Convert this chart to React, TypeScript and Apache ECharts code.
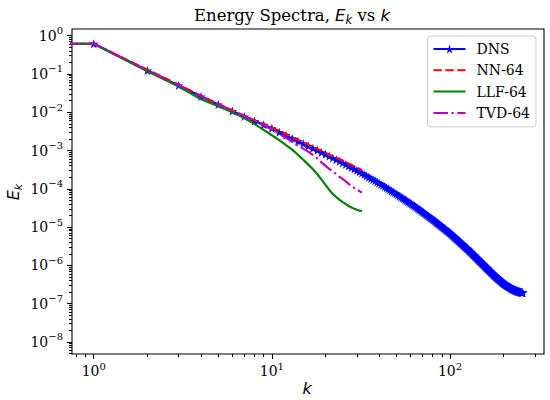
import React, { useEffect, useRef } from "react";
import * as echarts from "echarts";

// ---- data ----
const SERIES_NAMES = ["DNS", "NN-64", "LLF-64", "TVD-64"];
const K_DNS = Array.from({ length: 256 }, (_, i) => i + 1);
const K_LES = Array.from({ length: 32 }, (_, i) => i + 1);

// energy of the k = 0 mode (drawn as a flat segment toward the left edge)
const K_ZERO_PLOT = 0.5;
const E_K0 = [0.617, 0.617, 0.617, 0.617];

const E_DNS = [
  0.617, 0.123, 0.0501, 0.0257, 0.01585, 0.01072, 0.00776, 0.00589, 0.00468, 0.0038,
  0.00301, 0.00248, 0.00207, 0.00176, 0.00151, 0.00131, 0.00114, 0.00101, 8.93e-4, 7.98e-4,
  7.1e-4, 6.38e-4, 5.76e-4, 5.22e-4, 4.75e-4, 4.31e-4, 3.92e-4, 3.58e-4, 3.28e-4, 3.01e-4,
  2.78e-4, 2.56e-4, 2.36e-4, 2.17e-4, 2.01e-4, 1.86e-4, 1.73e-4, 1.61e-4, 1.5e-4, 1.4e-4,
  1.3e-4, 1.22e-4, 1.14e-4, 1.06e-4, 9.95e-5, 9.33e-5, 8.77e-5, 8.24e-5, 7.76e-5, 7.33e-5,
  6.9e-5, 6.49e-5, 6.12e-5, 5.78e-5, 5.46e-5, 5.16e-5, 4.89e-5, 4.63e-5, 4.39e-5, 4.17e-5,
  3.96e-5, 3.77e-5, 3.58e-5, 3.4e-5, 3.22e-5, 3.06e-5, 2.9e-5, 2.77e-5, 2.63e-5, 2.51e-5,
  2.39e-5, 2.28e-5, 2.17e-5, 2.07e-5, 1.98e-5, 1.89e-5, 1.81e-5, 1.73e-5, 1.66e-5, 1.59e-5,
  1.52e-5, 1.45e-5, 1.38e-5, 1.32e-5, 1.27e-5, 1.21e-5, 1.16e-5, 1.11e-5, 1.07e-5, 1.03e-5,
  9.86e-6, 9.46e-6, 9.1e-6, 8.73e-6, 8.4e-6, 8.09e-6, 7.78e-6, 7.48e-6, 7.21e-6, 6.95e-6,
  6.67e-6, 6.4e-6, 6.14e-6, 5.89e-6, 5.66e-6, 5.44e-6, 5.24e-6, 5.04e-6, 4.84e-6, 4.66e-6,
  4.49e-6, 4.32e-6, 4.16e-6, 4.01e-6, 3.86e-6, 3.72e-6, 3.6e-6, 3.47e-6, 3.35e-6, 3.23e-6,
  3.12e-6, 3.01e-6, 2.91e-6, 2.82e-6, 2.72e-6, 2.63e-6, 2.54e-6, 2.45e-6, 2.36e-6, 2.28e-6,
  2.2e-6, 2.12e-6, 2.05e-6, 1.98e-6, 1.91e-6, 1.85e-6, 1.79e-6, 1.73e-6, 1.67e-6, 1.62e-6,
  1.57e-6, 1.52e-6, 1.47e-6, 1.42e-6, 1.38e-6, 1.34e-6, 1.29e-6, 1.26e-6, 1.22e-6, 1.18e-6,
  1.15e-6, 1.11e-6, 1.08e-6, 1.05e-6, 1.01e-6, 9.86e-7, 9.57e-7, 9.29e-7, 9.03e-7, 8.77e-7,
  8.53e-7, 8.28e-7, 8.05e-7, 7.83e-7, 7.62e-7, 7.41e-7, 7.21e-7, 7.01e-7, 6.82e-7, 6.64e-7,
  6.46e-7, 6.29e-7, 6.12e-7, 5.97e-7, 5.81e-7, 5.66e-7, 5.51e-7, 5.37e-7, 5.26e-7, 5.14e-7,
  5.02e-7, 4.92e-7, 4.81e-7, 4.71e-7, 4.61e-7, 4.51e-7, 4.41e-7, 4.32e-7, 4.23e-7, 4.14e-7,
  4.06e-7, 3.97e-7, 3.89e-7, 3.81e-7, 3.73e-7, 3.66e-7, 3.58e-7, 3.51e-7, 3.44e-7, 3.38e-7,
  3.33e-7, 3.28e-7, 3.23e-7, 3.18e-7, 3.14e-7, 3.09e-7, 3.05e-7, 3.01e-7, 2.96e-7, 2.92e-7,
  2.88e-7, 2.84e-7, 2.8e-7, 2.76e-7, 2.72e-7, 2.69e-7, 2.65e-7, 2.61e-7, 2.58e-7, 2.54e-7,
  2.51e-7, 2.47e-7, 2.44e-7, 2.41e-7, 2.39e-7, 2.37e-7, 2.34e-7, 2.32e-7, 2.3e-7, 2.28e-7,
  2.26e-7, 2.24e-7, 2.22e-7, 2.21e-7, 2.19e-7, 2.17e-7, 2.15e-7, 2.13e-7, 2.11e-7, 2.1e-7,
  2.08e-7, 2.07e-7, 2.06e-7, 2.05e-7, 2.04e-7, 2.03e-7, 2.01e-7, 2.0e-7, 1.99e-7, 1.98e-7,
  1.97e-7, 1.96e-7, 1.95e-7, 1.94e-7, 1.93e-7, 1.92e-7,
];

const E_NN = [
  0.617, 0.129, 0.0525, 0.0269, 0.0166, 0.0112, 0.00813, 0.00617, 0.0049, 0.00398,
  0.00324, 0.00269, 0.00224, 0.00191, 0.00162, 0.00141, 0.00123, 0.0011, 9.77e-4, 8.71e-4,
  7.76e-4, 7.08e-4, 6.46e-4, 5.89e-4, 5.37e-4, 4.9e-4, 4.47e-4, 4.17e-4, 3.8e-4, 3.55e-4,
  3.31e-4, 3.09e-4,
];

const E_LLF = [
  0.617, 0.1175, 0.0468, 0.02188, 0.01445, 0.01, 0.00708, 0.0049, 0.00347, 0.00251,
  0.00186, 0.00138, 0.00105, 7.76e-4, 5.75e-4, 4.27e-4, 3.24e-4, 2.4e-4, 1.74e-4, 1.26e-4,
  9.33e-5, 7.24e-5, 6.03e-5, 5.13e-5, 4.47e-5, 3.98e-5, 3.55e-5, 3.24e-5, 3.02e-5, 2.82e-5,
  2.69e-5, 2.63e-5,
];

const E_TVD = [
  0.617, 0.1259, 0.0513, 0.0263, 0.01622, 0.01096, 0.00794, 0.00603, 0.00457, 0.00355,
  0.00275, 0.00214, 0.0017, 0.00135, 0.00112, 9.33e-4, 7.59e-4, 6.17e-4, 4.9e-4, 3.98e-4,
  3.31e-4, 2.82e-4, 2.4e-4, 2.04e-4, 1.78e-4, 1.55e-4, 1.35e-4, 1.17e-4, 1.05e-4, 9.55e-5,
  8.71e-5, 7.94e-5,
];

// axis ranges and ticks
const X_MIN = 0.755;
const X_MAX = 337;
const Y_MIN = 4.8e-9;
const Y_MAX = 1.5;
const X_MAJOR = [1, 10, 100];
const Y_MAJOR = [1e-8, 1e-7, 1e-6, 1e-5, 1e-4, 1e-3, 1e-2, 1e-1, 1];

function minorTicks(lo: number, hi: number): number[] {
  const out: number[] = [];
  for (let d = -10; d <= 3; d++) {
    for (let m = 2; m <= 9; m++) {
      const v = m * Math.pow(10, d);
      if (v >= lo && v <= hi) out.push(v);
    }
  }
  return out;
}

const STAR =
  "path://M50 0 L61.23 34.55 L97.55 34.55 L68.16 55.9 L79.39 90.45 L50 69.1 L20.61 90.45 L31.84 55.9 L2.45 34.55 L38.77 34.55 Z";

const SERIF = "DejaVu Serif";
const SANS = "DejaVu Sans";

function powLabel(value: number): string {
  const e = Math.round(Math.log10(value));
  const s = e < 0 ? "\u2212" + -e : String(e);
  return "{b|10}{s|" + s + "}";
}

const tickRich = {
  b: { fontFamily: SERIF, fontSize: 14, lineHeight: 20, color: "#000" },
  s: { fontFamily: SERIF, fontSize: 10, verticalAlign: "top", color: "#000" },
};

export default function App() {
  const ref = useRef<HTMLDivElement>(null);

  useEffect(() => {
    if (!ref.current) return;
    const chart = echarts.init(ref.current, undefined, { renderer: "svg" });

    const colors = ["#0000ff", "#ff0000", "#008000", "#bf00bf"];
    const makeData = (ks: number[], es: number[], e0: number) => [
      { value: [K_ZERO_PLOT, e0], symbol: "none" },
      ...ks.map((k, i) => [k, es[i]]),
    ];

    const tickLine = { color: "#000", width: 1.1 };
    const hiddenMark = { opacity: 0, color: "transparent", borderWidth: 0 };

    const option: any = {
      animation: false,
      grid: {
        left: 72,
        right: 6,
        top: 29,
        bottom: 46,
        show: true,
        borderColor: "#000",
        borderWidth: 1.1,
        backgroundColor: "transparent",
      },
      legend: {
        orient: "vertical",
        right: 14,
        top: 36,
        itemWidth: 32,
        itemHeight: 11,
        itemGap: 3.3,
        padding: [4, 6, 5, 5],
        backgroundColor: "rgba(255,255,255,0.8)",
        borderColor: "#cccccc",
        borderWidth: 1,
        borderRadius: 3,
        textStyle: { fontFamily: SERIF, fontSize: 14, lineHeight: 18, color: "#000", padding: [0, 0, 0, 6] },
        data: [
          { name: SERIES_NAMES[0] },
          { name: SERIES_NAMES[1], itemStyle: hiddenMark },
          { name: SERIES_NAMES[2], itemStyle: hiddenMark },
          { name: SERIES_NAMES[3], itemStyle: hiddenMark },
        ],
      },
      xAxis: [
        {
          type: "log",
          logBase: 10,
          min: X_MIN,
          max: X_MAX,
          position: "bottom",
          axisLine: { show: false },
          splitLine: { show: false },
          minorTick: { show: false },
          axisTick: { show: true, inside: false, length: 5, lineStyle: tickLine, customValues: X_MAJOR },
          axisLabel: { customValues: X_MAJOR, margin: 7, formatter: powLabel, rich: tickRich },
        },
        {
          type: "log",
          logBase: 10,
          min: X_MIN,
          max: X_MAX,
          position: "bottom",
          axisLine: { show: false },
          splitLine: { show: false },
          axisTick: { show: true, inside: false, length: 3, lineStyle: tickLine, customValues: minorTicks(X_MIN, X_MAX) },
          axisLabel: { show: false },
        },
      ],
      yAxis: [
        {
          type: "log",
          logBase: 10,
          min: Y_MIN,
          max: Y_MAX,
          position: "left",
          axisLine: { show: false },
          splitLine: { show: false },
          minorTick: { show: false },
          axisTick: { show: true, inside: false, length: 5, lineStyle: tickLine, customValues: Y_MAJOR },
          axisLabel: { customValues: Y_MAJOR, margin: 9, formatter: powLabel, rich: tickRich },
        },
        {
          type: "log",
          logBase: 10,
          min: Y_MIN,
          max: Y_MAX,
          position: "left",
          axisLine: { show: false },
          splitLine: { show: false },
          axisTick: { show: true, inside: false, length: 3, lineStyle: tickLine, customValues: minorTicks(Y_MIN, Y_MAX) },
          axisLabel: { show: false },
        },
      ],
      series: [
        {
          name: "DNS",
          type: "line",
          xAxisIndex: 0,
          yAxisIndex: 0,
          data: makeData(K_DNS, E_DNS, E_K0[0]),
          symbol: STAR,
          symbolSize: [9.5, 9],
          showSymbol: true,
          clip: true,
          lineStyle: { color: colors[0], width: 2.2 },
          itemStyle: { color: colors[0] },
          z: 2,
        },
        {
          name: "NN-64",
          type: "line",
          data: makeData(K_LES, E_NN, E_K0[1]),
          symbol: "none",
          clip: true,
          lineStyle: { color: colors[1], width: 2.2, type: [8.3, 3.6] },
          itemStyle: { color: colors[1] },
          z: 3,
        },
        {
          name: "LLF-64",
          type: "line",
          data: makeData(K_LES, E_LLF, E_K0[2]),
          symbol: "none",
          clip: true,
          lineStyle: { color: colors[2], width: 2.2 },
          itemStyle: { color: colors[2] },
          z: 4,
        },
        {
          name: "TVD-64",
          type: "line",
          data: makeData(K_LES, E_TVD, E_K0[3]),
          symbol: "none",
          clip: true,
          lineStyle: { color: colors[3], width: 2.2, type: [14.4, 3.6, 2.2, 3.6] },
          itemStyle: { color: colors[3] },
          z: 5,
        },
      ],
      graphic: [
        {
          type: "text",
          x: 292,
          y: 15,
          style: {
            text: "{a|Energy Spectra, }{m|E}{s|k}{a| vs }{m|k}",
            align: "center",
            verticalAlign: "middle",
            rich: {
              a: { fontFamily: SERIF, fontSize: 16.5, lineHeight: 22, color: "#000" },
              m: { fontFamily: SANS, fontStyle: "italic", fontSize: 16.5, lineHeight: 22, color: "#000" },
              s: { fontFamily: SANS, fontStyle: "italic", fontSize: 11.5, verticalAlign: "bottom", color: "#000" },
            },
          },
        },
        {
          type: "text",
          x: 307,
          y: 388,
          style: {
            text: "k",
            font: "italic 16px 'DejaVu Sans'",
            fill: "#000",
            align: "center",
            verticalAlign: "middle",
          },
        },
        {
          type: "text",
          x: 13,
          y: 192,
          rotation: Math.PI / 2,
          style: {
            text: "{m|E}{s|k}",
            align: "center",
            verticalAlign: "middle",
            rich: {
              m: { fontFamily: SANS, fontStyle: "italic", fontSize: 16, lineHeight: 21, color: "#000" },
              s: { fontFamily: SANS, fontStyle: "italic", fontSize: 11, verticalAlign: "bottom", color: "#000" },
            },
          },
        },
      ],
    };

    chart.setOption(option);
    return () => chart.dispose();
  }, []);

  return (
    <div
      ref={ref}
      style={{ position: "absolute", left: 0, top: 0, width: 550, height: 400, background: "#fff" }}
    />
  );
}
